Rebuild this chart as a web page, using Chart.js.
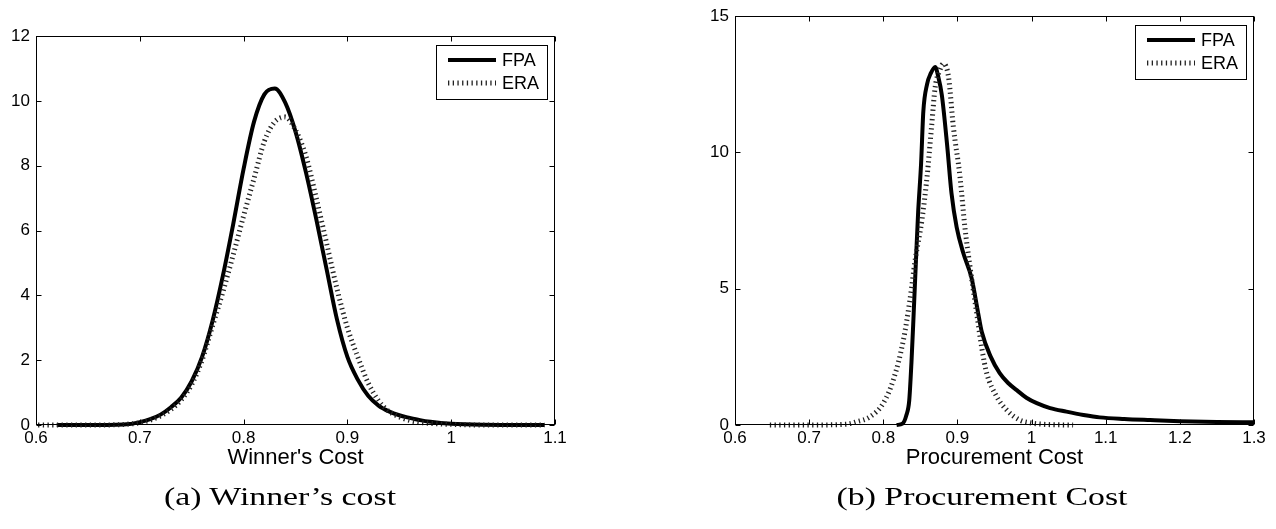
<!DOCTYPE html>
<html>
<head>
<meta charset="utf-8">
<script src="https://cdn.jsdelivr.net/npm/chart.js@4.4.0/dist/chart.umd.min.js"></script>
<style>
  html, body { margin: 0; padding: 0; background: #fff; }
  #page { position: relative; width: 1276px; height: 529px; overflow: hidden; }
  canvas { position: absolute; top: 0; }
  .caption {
    position: absolute; top: 482px;
    font-family: "Liberation Serif", serif; font-size: 26px; color: #000;
    white-space: nowrap; transform-origin: center;
    transform: translateX(-50%) scaleX(1.3);
  }
</style>
</head>
<body>
<div id="page">
  <canvas id="winChart" width="640" height="529" style="left:0"></canvas>
  <canvas id="procChart" width="636" height="529" style="left:640px"></canvas>
  <div class="caption" style="left:280px">(a) Winner’s cost</div>
  <div class="caption" style="left:982px">(b) Procurement Cost</div>
</div>
<script>
// (a) Winner's cost - densities
const winFpaX = [0.62, 0.66, 0.69, 0.70, 0.71, 0.72, 0.73, 0.74, 0.75, 0.76, 0.77, 0.78, 0.79, 0.80, 0.81, 0.82, 0.83,
  0.84, 0.85, 0.86, 0.87, 0.88, 0.89, 0.90, 0.91, 0.92, 0.93, 0.94, 0.95, 0.96, 0.97, 0.98, 1.00, 1.03, 1.09];
const winFpaY = [0, 0, 0.03, 0.09, 0.18, 0.32, 0.55, 0.85, 1.35, 2.1, 3.2, 4.6, 6.2, 7.9, 9.35, 10.2, 10.38,
  9.95, 9.05, 7.8, 6.35, 4.8, 3.25, 2.1, 1.4, 0.9, 0.6, 0.42, 0.3, 0.22, 0.15, 0.1, 0.04, 0.01, 0];
const winEraX = [0.602, 0.66, 0.69, 0.70, 0.71, 0.72, 0.73, 0.74, 0.75, 0.76, 0.77, 0.78, 0.79, 0.80, 0.81, 0.82, 0.83,
  0.84, 0.85, 0.86, 0.87, 0.88, 0.89, 0.90, 0.91, 0.92, 0.93, 0.94, 0.95, 0.96, 0.97, 0.98, 1.00, 1.03, 1.09];
const winEraY = [0, 0, 0.03, 0.07, 0.15, 0.28, 0.48, 0.78, 1.25, 2.0, 3.05, 4.1, 5.25, 6.45, 7.6, 8.75, 9.35,
  9.5, 9.1, 8.3, 7.0, 5.6, 4.2, 3.0, 2.1, 1.3, 0.75, 0.42, 0.25, 0.14, 0.08, 0.05, 0.02, 0, 0];

// (b) Procurement cost
const procFpaX = [0.818, 0.826, 0.831, 0.835, 0.838, 0.841, 0.844, 0.847, 0.851, 0.854, 0.859, 0.864, 0.87, 0.874,
  0.879, 0.886, 0.892, 0.899, 0.908, 0.919, 0.928, 0.933, 0.945, 0.957, 0.968, 0.98, 0.993, 1.007, 1.025, 1.047,
  1.07, 1.092, 1.125, 1.16, 1.2, 1.25, 1.3];
const procFpaY = [0, 0.05, 0.35, 0.9, 2.3, 4.1, 6.0, 7.8, 9.6, 11.5, 12.5, 12.9, 13.14, 12.8,
  12.1, 10.3, 8.5, 7.25, 6.3, 5.4, 4.1, 3.4, 2.5, 1.9, 1.55, 1.28, 1.0, 0.8, 0.62, 0.49,
  0.37, 0.28, 0.22, 0.18, 0.14, 0.11, 0.1];
const procEraX = [0.647, 0.70, 0.75, 0.764, 0.782, 0.80, 0.8135, 0.827, 0.836, 0.843, 0.852, 0.859, 0.865, 0.87,
  0.876, 0.881, 0.888, 0.8945, 0.9035, 0.91, 0.917, 0.926, 0.933, 0.9395, 0.953, 0.9665, 0.984, 0.998, 1.02, 1.056];
const procEraY = [0, 0, 0.03, 0.12, 0.3, 0.8, 1.65, 3.1, 4.6, 6.05, 7.5, 9.1, 10.9, 12.4,
  13.0, 13.26, 12.77, 10.94, 9.1, 7.27, 5.8, 4.1, 2.8, 1.9, 1.04, 0.55, 0.18, 0.08, 0.02, 0];

const seriesNames = ["FPA", "ERA"];
const winXRange = [0.6, 1.1];
const winYRange = [0, 12];
const winYStep = 2;
const procXRange = [0.6, 1.3];
const procYRange = [0, 15];
const procYStep = 5;

const points = (xs, ys) => xs.map((x, i) => ({ x: x, y: ys[i] }));

// box round the plot with inward ticks on all four sides
const matlabBox = {
  id: "matlabBox",
  afterDatasetsDraw(chart) {
    const { ctx, chartArea: a, scales } = chart;
    const L = Math.round(a.left) + 0.5, R = Math.round(a.right) - 0.5;
    const T = Math.round(a.top) + 0.5, B = Math.round(a.bottom) - 0.5;
    ctx.save();
    ctx.strokeStyle = "#000";
    ctx.lineWidth = 1;
    ctx.setLineDash([]);
    ctx.strokeRect(L, T, R - L, B - T);
    ctx.beginPath();
    scales.x.ticks.forEach(t => {
      const x = Math.round(scales.x.getPixelForValue(t.value)) + 0.5;
      ctx.moveTo(x, B); ctx.lineTo(x, B - 5);
      ctx.moveTo(x, T); ctx.lineTo(x, T + 5);
    });
    scales.y.ticks.forEach(t => {
      const y = Math.round(scales.y.getPixelForValue(t.value)) + 0.5;
      ctx.moveTo(L, y); ctx.lineTo(L + 5, y);
      ctx.moveTo(R, y); ctx.lineTo(R - 5, y);
    });
    ctx.stroke();
    ctx.restore();
  }
};

// legend in a box, top right inside the plot
const legendBox = {
  id: "legendBox",
  afterDraw(chart) {
    const { ctx, chartArea: a } = chart;
    const w = 111, h = 54;
    const left = Math.round(a.right - 8 - w), top = Math.round(a.top + 9);
    ctx.save();
    ctx.fillStyle = "#fff";
    ctx.fillRect(left, top, w, h);
    ctx.strokeStyle = "#000";
    ctx.lineWidth = 1;
    ctx.strokeRect(left + 0.5, top + 0.5, w, h);
    chart.data.datasets.forEach((ds, i) => {
      const y = top + 15 + i * 23;
      ctx.beginPath();
      ctx.lineWidth = ds.borderWidth;
      ctx.strokeStyle = ds.borderColor;
      ctx.setLineDash(ds.borderDash || []);
      ctx.moveTo(left + 12, y);
      ctx.lineTo(left + 60, y);
      ctx.stroke();
      ctx.setLineDash([]);
      ctx.fillStyle = "#000";
      ctx.font = '18px "Liberation Sans"';
      ctx.textBaseline = "middle";
      ctx.fillText(ds.label, left + 66, y + 1);
    });
    ctx.restore();
  }
};

function makeChart(id, fpa, era, xRange, yRange, yStep, xTitle, pad) {
  const ctx = document.getElementById(id).getContext("2d");
  return new Chart(ctx, {
    type: "line",
    data: {
      datasets: [
        {
          label: seriesNames[0], data: fpa, order: 1,
          borderColor: "#000", borderWidth: 4, pointRadius: 0,
          cubicInterpolationMode: "monotone", clip: false
        },
        {
          label: seriesNames[1], data: era, order: 0,
          borderColor: "#222", borderWidth: 5, borderDash: [1.3, 3.4], pointRadius: 0,
          cubicInterpolationMode: "monotone", clip: false
        }
      ]
    },
    options: {
      responsive: false,
      animation: false,
      layout: { padding: pad },
      plugins: { legend: { display: false }, tooltip: { enabled: false } },
      scales: {
        x: {
          type: "linear", min: xRange[0], max: xRange[1],
          grid: { display: false, drawTicks: false }, border: { display: false },
          ticks: {
            stepSize: 0.1, padding: 3, color: "#000", maxRotation: 0,
            font: { family: "Liberation Sans", size: 17 },
            callback: v => String(+v.toFixed(1))
          },
          title: {
            display: true, text: xTitle, color: "#000", padding: { top: 0, bottom: 0 },
            font: { family: "Liberation Sans", size: 22 }
          },
          afterFit: s => { s.height = 46; }
        },
        y: {
          min: yRange[0], max: yRange[1],
          grid: { display: false, drawTicks: false }, border: { display: false },
          ticks: {
            stepSize: yStep, padding: 6, color: "#000",
            font: { family: "Liberation Sans", size: 17 }
          },
          afterFit: s => { s.width = 36; }
        }
      }
    },
    plugins: [matlabBox, legendBox]
  });
}

makeChart("winChart", points(winFpaX, winFpaY), points(winEraX, winEraY),
  winXRange, winYRange, winYStep, "Winner's Cost",
  { left: 0, top: 36, right: 85, bottom: 58 });

makeChart("procChart", points(procFpaX, procFpaY), points(procEraX, procEraY),
  procXRange, procYRange, procYStep, "Procurement Cost",
  { left: 59, top: 16, right: 22, bottom: 58 });
</script>
</body>
</html>
